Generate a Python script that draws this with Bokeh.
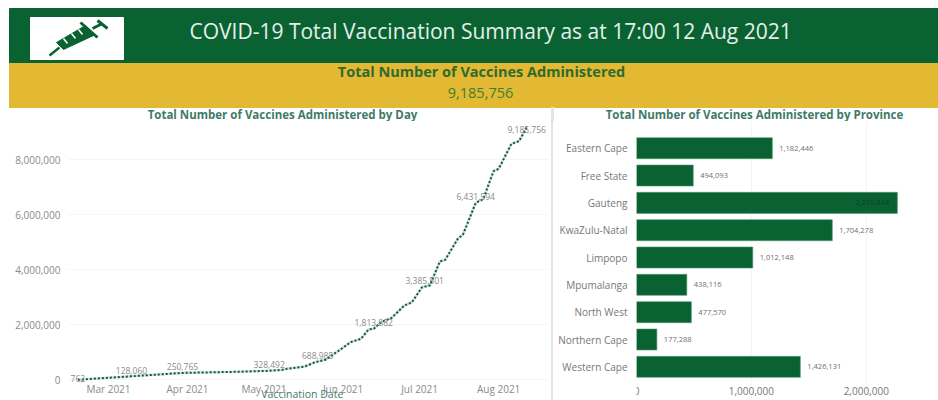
from datetime import date
from bokeh.embed import file_html
from bokeh.layouts import column, row, Spacer
from bokeh.models import ColumnDataSource, NumeralTickFormatter, DatetimeTickFormatter, FixedTicker, Range1d
from bokeh.plotting import figure
from bokeh.resources import INLINE
from bokeh.core.properties import value

# --- data ---
main_title = "COVID-19 Total Vaccination Summary as at 17:00 12 Aug 2021"
kpi_title = "Total Number of Vaccines Administered"
kpi_value = "9,185,756"
day_title = "Total Number of Vaccines Administered by Day"
province_title = "Total Number of Vaccines Administered by Province"
x_title = "Vaccination Date"

day_dates = [date(2021,2,17), date(2021,3,10), date(2021,3,30), date(2021,4,20), date(2021,5,3), date(2021,5,8), date(2021,5,10),
             date(2021,5,17), date(2021,5,21), date(2021,5,25), date(2021,5,30), date(2021,6,4), date(2021,6,8), date(2021,6,11),
             date(2021,6,13), date(2021,6,16), date(2021,6,20), date(2021,6,25), date(2021,6,28), date(2021,7,2), date(2021,7,5),
             date(2021,7,9), date(2021,7,11), date(2021,7,16), date(2021,7,18), date(2021,7,23), date(2021,7,26), date(2021,7,30),
             date(2021,8,1), date(2021,8,6), date(2021,8,9), date(2021,8,12)]
day_totals = [762, 128060, 250765, 290000, 328492, 360000, 400000,
              484000, 640000, 727000, 1040000, 1370000, 1490000, 1830000,
              1854000, 2100000, 2250000, 2700000, 2820000, 3370000, 3430000,
              4310000, 4360000, 5130000, 5280000, 6431594, 6580000, 7590000,
              7670000, 8580000, 8680000, 9185756]

note_dates = [date(2021,2,17), date(2021,3,10), date(2021,3,30), date(2021,5,3), date(2021,5,22), date(2021,6,13), date(2021,7,3), date(2021,7,23), date(2021,8,12)]
note_values = [762, 128060, 250765, 328492, 688000, 1813000, 3385000, 6431594, 9185756]
note_texts = ["762", "128,060", "250,765", "328,492", "688,985", "1,813,882", "3,385,501", "6,431,594", "9,185,756"]
note_shift = [-1, -6, -6, -6, -5, -7, -6, -6, 2]

month_ticks = [date(2021,3,1), date(2021,4,1), date(2021,5,1), date(2021,6,1), date(2021,7,1), date(2021,8,1)]
count_ticks = [0, 2000000, 4000000, 6000000, 8000000]

provinces = ["Eastern Cape", "Free State", "Gauteng", "KwaZulu-Natal", "Limpopo", "Mpumalanga", "North West", "Northern Cape", "Western Cape"]
province_totals = [1182446, 494093, 2270848, 1704278, 1012148, 438116, 477570, 177288, 1426131]
province_ticks = [0, 1000000, 2000000]

GREEN = "#0a6233"
GOLD = "#e3b934"
FONT = "Open Sans"
GREY = "#8a8a8a"
TEAL = "#3f7a68"

# --- banner, with the two panel headings underneath it ---
head = figure(width=938, height=121, x_range=Range1d(0, 938), y_range=Range1d(121, 0), output_backend="svg",
              toolbar_location=None, min_border=0, outline_line_color=None, title=None)
head.axis.visible = False
head.grid.visible = False
head.quad(left=[9], right=[938], top=[8], bottom=[63], color=GREEN)
head.quad(left=[9], right=[938], top=[63], bottom=[107], color=GOLD)
head.quad(left=[30], right=[123], top=[17], bottom=[59], color="white")
head.quad(left=[551], right=[553], top=[107], bottom=[121], color="#e4e4e4")
# syringe icon
head.line([49, 59], [55, 47], line_color=GREEN, line_width=2.5)
head.patch([56, 63, 93, 85], [42, 49, 35, 25], color=GREEN)
head.line([80, 97], [22, 37], line_color=GREEN, line_width=3)
head.line([92, 102], [28, 23], line_color=GREEN, line_width=3)
head.line([97, 107], [20, 28], line_color=GREEN, line_width=3)
head.multi_line([[63, 67], [71, 75], [78, 82]], [[38, 43], [33, 38], [29, 34]], line_color="white", line_width=1.5)
head.text([189], [30], text=[main_title], text_font=value(FONT), text_font_size="21px", text_color="#e6f0ea",
          text_baseline="middle", text_align="left")
head.text([481], [71], text=[kpi_title], text_font=value(FONT), text_font_size="14.5px", text_font_style="bold", text_color="#2e6b2e",
          text_baseline="middle", text_align="center")
head.text([480], [92], text=[kpi_value], text_font=value(FONT), text_font_size="14.5px", text_color="#3c7f30",
          text_baseline="middle", text_align="center")
head.text([282, 754], [114, 114], text=[day_title, province_title], text_font=value(FONT), text_font_size="11.5px",
          text_font_style="bold", text_color=TEAL, text_baseline="middle", text_align="center")

# --- by day ---
t0 = date(2021, 3, 1)
def ms(d):
    return (d - date(1970, 1, 1)).days * 86400000.0

day_src = ColumnDataSource(dict(x=[ms(d) for d in day_dates], y=day_totals))
note_src = ColumnDataSource(dict(x=[ms(d) for d in note_dates], y=note_values, t=note_texts, s=note_shift))

px_per_day = 2.55
per_px = 2000000 / 55
x0 = ms(t0) - (108 - 68) / px_per_day * 86400000
x1 = ms(t0) + (548 - 108) / px_per_day * 86400000
left = figure(width=551, height=279, x_axis_type="datetime", x_range=Range1d(x0, x1),
              y_range=Range1d(-20.7 * per_px, 258.3 * per_px), output_backend="svg", toolbar_location=None, title=None,
              min_border_left=68, min_border_right=3, min_border_top=0, min_border_bottom=0, outline_line_color=None)
left.line("x", "y", source=day_src, line_color="#cfe3dc", line_width=2.6)
left.line("x", "y", source=day_src, line_color="#14573a", line_width=2, line_dash="2 2")
left.text("x", "y", text="t", source=note_src, text_font=value(FONT), text_font_size="8.5px", text_color=GREY,
          text_align="center", text_baseline="middle", y_offset="s")
left.text([ms(date(2021, 5, 16))], [-14.5 * per_px], text=[x_title], text_font=value(FONT), text_font_size="10.5px",
          text_color=TEAL, text_align="center", text_baseline="middle")
left.xaxis.fixed_location = -15.7 * per_px
left.xaxis.ticker = FixedTicker(ticks=[ms(d) for d in month_ticks])
left.xaxis.formatter = DatetimeTickFormatter(months="%b %Y", days="%b %Y", hours="%b %Y")
left.yaxis.ticker = FixedTicker(ticks=count_ticks)
left.yaxis.formatter = NumeralTickFormatter(format="0,0")
left.axis.axis_line_color = None
left.axis.major_tick_line_color = None
left.axis.minor_tick_line_color = None
left.axis.major_tick_out = 0
left.axis.major_tick_in = 0
left.axis.major_label_text_font = FONT
left.axis.major_label_text_font_size = "10px"
left.axis.major_label_text_color = GREY
left.yaxis.major_label_standoff = 8
left.xaxis.major_label_standoff = -14
left.xgrid.visible = False
left.ygrid.grid_line_color = "#f5f5f5"

# --- by province ---
inside = [t > 2000000 for t in province_totals]
rows = list(range(len(provinces)))
bar_src = ColumnDataSource(dict(p=rows, v=province_totals, t=[f"{t:,}" for t in province_totals],
                                col=["#123f24" if i else "#6f6f6f" for i in inside],
                                al=["right" if i else "left" for i in inside],
                                off=[-8 if i else 7 for i in inside]))
row_px = 27.33
right = figure(width=385, height=279, x_range=Range1d(0, (930 - 635.7) / 115 * 1000000),
               y_range=Range1d((400 - 147.7) / row_px, (121 - 147.7) / row_px), output_backend="svg", toolbar_location=None, title=None,
               min_border_left=83, min_border_right=8, min_border_top=0, min_border_bottom=0, outline_line_color=None)
right.hbar(y="p", right="v", height=0.77, source=bar_src, fill_color=GREEN, line_color="#4f9a70", line_width=0.6)
right.text(x="v", y="p", text="t", source=bar_src, text_font=value(FONT), text_font_size="7.5px", text_color="col",
           text_align="al", text_baseline="middle", x_offset="off")
right.xaxis.fixed_location = (399.5 - 147.7) / row_px
right.xaxis.ticker = FixedTicker(ticks=province_ticks)
right.xaxis.formatter = NumeralTickFormatter(format="0,0")
right.yaxis.ticker = FixedTicker(ticks=rows)
right.yaxis.major_label_overrides = {i: name for i, name in zip(rows, provinces)}
right.axis.axis_line_color = None
right.axis.major_tick_line_color = None
right.axis.minor_tick_line_color = None
right.axis.major_tick_out = 0
right.axis.major_tick_in = 0
right.axis.major_label_text_font = FONT
right.axis.major_label_text_font_size = "10px"
right.axis.major_label_text_color = "#777777"
right.xaxis.major_label_standoff = -13
right.yaxis.major_label_standoff = 9
right.ygrid.visible = False
right.xgrid.grid_line_color = "#f5f5f5"

divider = Spacer(width=2, height=279, styles={"background": "#e4e4e4"})
page = column(head, row(left, divider, right, spacing=0), spacing=0)
open("out.html", "w").write(file_html(page, INLINE))
